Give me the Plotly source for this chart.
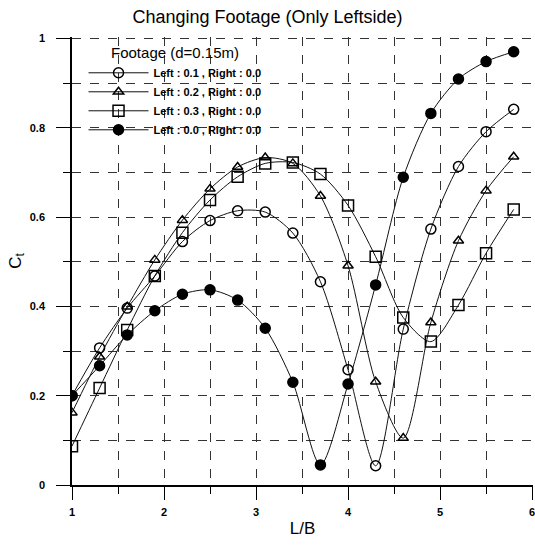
import plotly.graph_objects as go

# L/B values
lb = [1.0, 1.3, 1.6, 1.9, 2.2, 2.5, 2.8, 3.1, 3.4, 3.7, 4.0, 4.3, 4.6, 4.9, 5.2, 5.5, 5.8]

# Ct series
left_01 = [0.200, 0.307, 0.396, 0.468, 0.545, 0.592, 0.614, 0.611, 0.564, 0.455,
           0.258, 0.043, 0.349, 0.573, 0.713, 0.791, 0.841]
left_02 = [0.162, 0.287, 0.399, 0.504, 0.593, 0.663, 0.712, 0.733, 0.720, 0.647,
           0.491, 0.231, 0.105, 0.364, 0.547, 0.659, 0.735]
left_03 = [0.087, 0.217, 0.347, 0.468, 0.565, 0.638, 0.690, 0.720, 0.722, 0.696,
           0.626, 0.511, 0.375, 0.321, 0.403, 0.519, 0.617]
left_00 = [0.200, 0.267, 0.336, 0.390, 0.427, 0.437, 0.414, 0.351, 0.230, 0.045,
           0.226, 0.448, 0.689, 0.832, 0.909, 0.948, 0.970]

series_names = ["Left : 0.1 , Right : 0.0", "Left : 0.2 , Right : 0.0",
                "Left : 0.3 , Right : 0.0", "Left : 0.0 , Right : 0.0"]
series_values = [left_01, left_02, left_03, left_00]
series_symbols = ["circle-open", "triangle-up-open", "square-open", "circle"]
series_sizes = [10, 9, 11, 10]

x_ticks = [1, 2, 3, 4, 5, 6]
y_ticks = [0, 0.2, 0.4, 0.6, 0.8, 1]
y_tick_text = ["0", "0.2", "0.4", "0.6", "0.8", "1"]

fig = go.Figure()
for name, vals, sym, sz in zip(series_names, series_values, series_symbols, series_sizes):
    fig.add_trace(go.Scatter(
        x=lb, y=vals, name=name, mode="lines+markers",
        line=dict(color="#111111", width=1, shape="spline", smoothing=0.8),
        marker=dict(symbol=sym, size=sz, color="#000000",
                    line=dict(color="#000000", width=1.5)),
    ))

font_family = "Liberation Sans, Arial, sans-serif"
grid_color = "#333333"

fig.update_layout(
    width=535, height=545,
    margin=dict(l=72, r=2, t=37, b=60, autoexpand=False),
    paper_bgcolor="white", plot_bgcolor="white",
    font=dict(family=font_family, color="#000000"),
    title=dict(text="Changing Footage (Only Leftside)", x=0.5, xanchor="center",
               y=0.969, yanchor="middle", font=dict(size=18, family=font_family)),
    showlegend=True,
    legend=dict(
        x=0.025, y=0.996, xanchor="left", yanchor="top",
        bgcolor="rgba(255,255,255,0)", borderwidth=0,
        font=dict(size=11, family=font_family, weight="bold"),
        title=dict(text="Footage (d=0.15m)", side="top center",
                   font=dict(size=15, family=font_family, weight="normal")),
        tracegroupgap=0, itemwidth=60,
    ),
    xaxis=dict(
        range=[1, 6.01], tickvals=x_ticks, ticktext=[str(v) for v in x_ticks],
        showline=True, linecolor="#000000", linewidth=1.5,
        ticks="outside", ticklen=13, tickwidth=1.2, tickcolor="#000000",
        ticklabelstandoff=3, ticklabeloverflow="allow",
        tickfont=dict(size=11, family=font_family, weight="bold"),
        showgrid=True, gridcolor=grid_color, griddash="dash", gridwidth=1,
        minor=dict(dtick=0.5, tick0=1, showgrid=True, gridcolor=grid_color,
                   griddash="dash", gridwidth=1, ticks="outside", ticklen=7,
                   tickcolor="#000000"),
        zeroline=False,
        title=dict(text="L/B", font=dict(size=17, family=font_family), standoff=5),
    ),
    yaxis=dict(
        range=[0, 1.003], tickvals=y_ticks, ticktext=y_tick_text,
        showline=True, linecolor="#000000", linewidth=1.5,
        ticks="outside", ticklen=14, tickwidth=1.2, tickcolor="#000000",
        ticklabelstandoff=9,
        tickfont=dict(size=11, family=font_family, weight="bold"),
        showgrid=True, gridcolor=grid_color, griddash="dash", gridwidth=1,
        minor=dict(dtick=0.1, tick0=0, showgrid=True, gridcolor=grid_color,
                   griddash="dash", gridwidth=1, ticks="outside", ticklen=7,
                   tickcolor="#000000"),
        zeroline=False,
        title=dict(text="C<sub>t</sub>", font=dict(size=17, family=font_family), standoff=4),
    ),
)

fig.write_html("out.html",
               config={"displayModeBar": False},
               post_script="document.body.style.margin='0';document.body.style.padding='0';")
